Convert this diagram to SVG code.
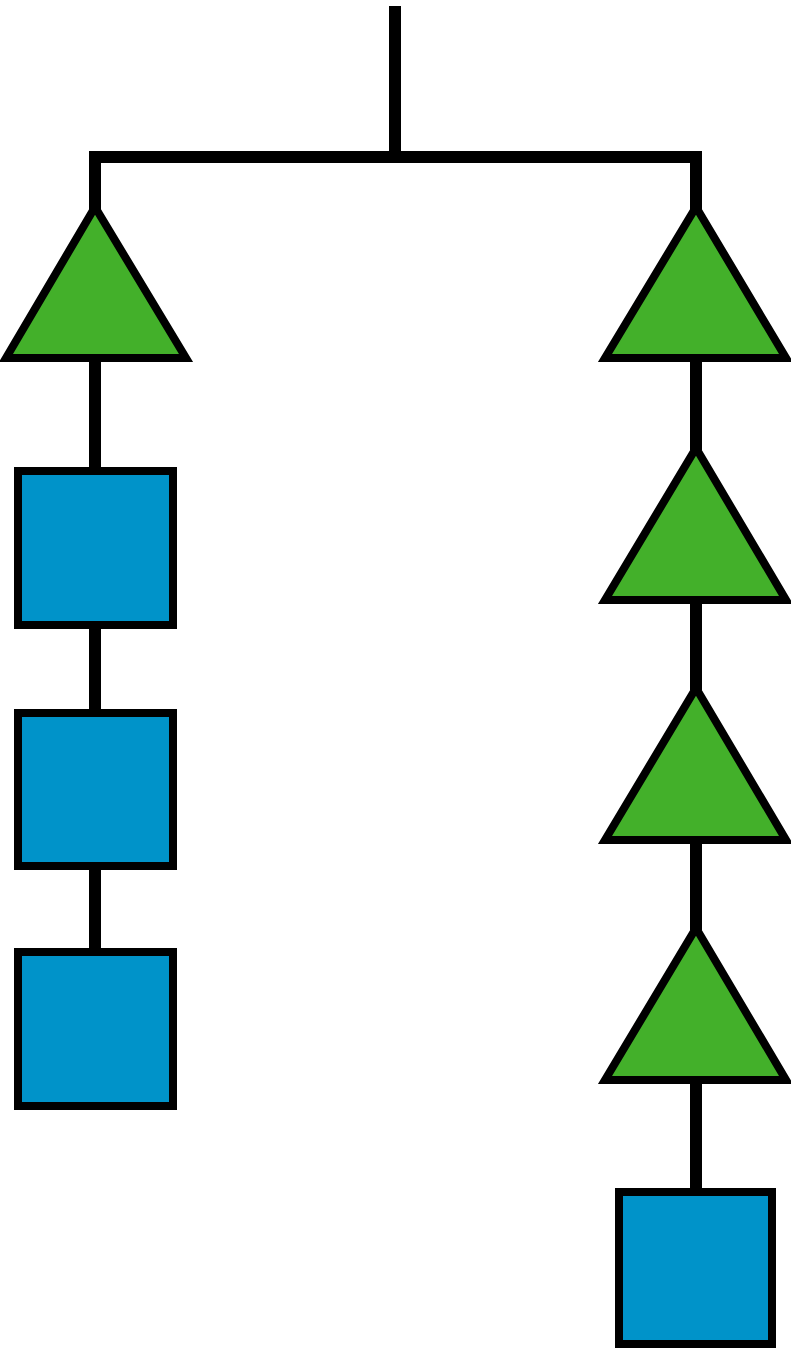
<svg xmlns="http://www.w3.org/2000/svg" width="791" height="1350" viewBox="0 0 791 1350">
<style>
.c{stroke:#000;stroke-width:12;fill:none}
.t{fill:#43b02a;stroke:#000;stroke-width:8;stroke-linejoin:miter}
.s{fill:#0093c9;stroke:#000;stroke-width:8}
</style>
<rect width="791" height="1350" fill="#fff"/>
<g id="connectors">
<path class="c" d="M395,6 V157 M95,210 V157 H696 V210"/>
<path class="c" d="M95,358 V471 M95,625 V713 M95,866 V952"/>
<path class="c" d="M696,358 V450 M696,600 V690 M696,840 V930 M696,1080 V1192"/>
</g>
<g id="tri-left"><polygon class="t" points="95,207 186,358 6,358"/></g>
<g id="sq-left-1"><rect class="s" x="18" y="471" width="155" height="154"/></g>
<g id="sq-left-2"><rect class="s" x="18" y="713" width="155" height="153"/></g>
<g id="sq-left-3"><rect class="s" x="18" y="952" width="155" height="154"/></g>
<g id="tri-right-1"><polygon class="t" points="696,207 786,358 605,358"/></g>
<g id="tri-right-2"><polygon class="t" points="696,448 786,600 605,600"/></g>
<g id="tri-right-3"><polygon class="t" points="696,688 786,840 605,840"/></g>
<g id="tri-right-4"><polygon class="t" points="696,928 786,1080 605,1080"/></g>
<g id="sq-right"><rect class="s" x="619" y="1192" width="153" height="152"/></g>
</svg>
